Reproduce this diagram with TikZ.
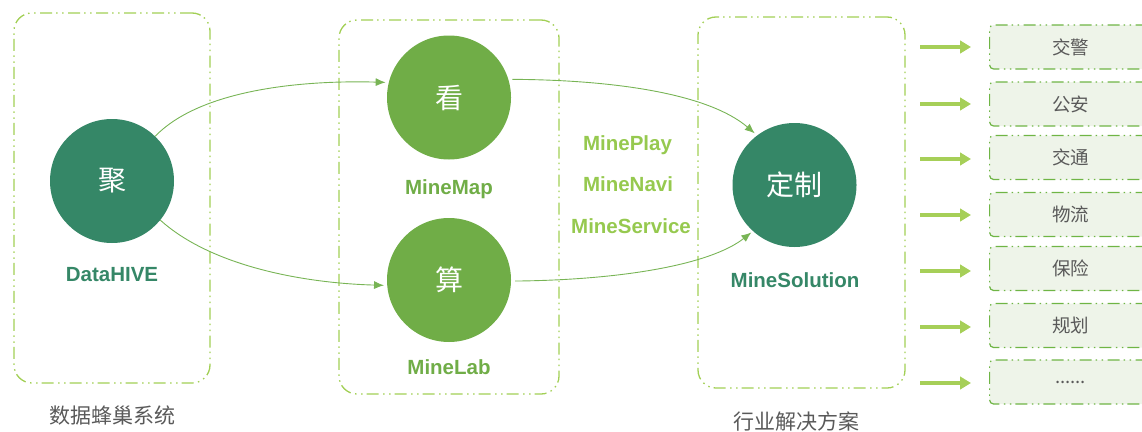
\documentclass[tikz,border=0pt]{standalone}
\usepackage{fontspec}
\setmainfont{Liberation Sans}
\newfontfamily\cjk{Noto Sans CJK SC}
\usetikzlibrary{arrows.meta}
\definecolor{dkgreen}{HTML}{358767}
\definecolor{ltgreen}{HTML}{70AD47}
\definecolor{ygreen}{HTML}{96C94F}
\definecolor{boxline}{HTML}{A2CF55}
\definecolor{listline}{HTML}{6FB545}
\definecolor{listfill}{HTML}{EEF4E9}
\definecolor{arrowc}{HTML}{A6CF58}
\definecolor{conncol}{HTML}{78B455}
\definecolor{graytxt}{HTML}{595959}
\tikzset{
  dashdot/.style={dash pattern=on 12pt off 4.5pt on 1.5pt off 4.5pt on 1.5pt off 4pt},
  grpbox/.style={draw=boxline, line width=1.3pt, dashdot, rounded corners=18pt, inner sep=0pt},
  listbox/.style={draw=listline, fill=listfill, line width=1.2pt, dashdot, rounded corners=4pt,
    minimum width=162pt, minimum height=44pt, anchor=west, inner sep=0pt,
    text=graytxt, font=\cjk\fontsize{18.5}{20}\selectfont},
  darkc/.style={circle, fill=dkgreen, minimum size=124pt, inner sep=0pt, text=white,
    font=\cjk\fontsize{28}{30}\selectfont},
  lightc/.style={circle, fill=ltgreen, minimum size=124pt, inner sep=0pt, text=white,
    font=\cjk\fontsize{28}{30}\selectfont},
  lbl/.style={font=\bfseries\fontsize{20.5}{22}\selectfont, inner sep=0pt},
  captxt/.style={font=\cjk\fontsize{21}{23}\selectfont, text=graytxt, inner sep=0pt},
  conn/.style={draw=conncol, line width=0.9pt, -{Latex[length=10pt,width=8pt]}},
  bigarrow/.style={draw=arrowc, line width=4.5pt, -{Triangle[length=11pt,width=12.5pt]}}
}
\begin{document}
\begin{tikzpicture}[x=1pt,y=-1pt]
\useasboundingbox (0,0) rectangle (1142,431);
% group boxes
\node[grpbox, minimum width=196pt, minimum height=370pt] (b1) at (112,198) {};
\node[grpbox, minimum width=220pt, minimum height=374pt] (b2) at (449,207) {};
\node[grpbox, minimum width=207pt, minimum height=371pt] (b3) at (801.5,202.5) {};
% circles
\node[darkc] (ju) at (112,181) {聚};
\node[lightc] (kan) at (449,97.5) {看};
\node[lightc] (suan) at (449,280) {算};
\node[darkc] (dz) at (794.5,185) {定制};
% labels
\node[lbl, text=dkgreen] (dh) at (112,275) {DataHIVE};
\node[lbl, text=ltgreen] (mm) at (449,189) {MineMap};
\node[lbl, text=ltgreen] (ml) at (449,367) {MineLab};
\node[lbl, text=dkgreen] (ms) at (795,280) {MineSolution};
\node[lbl, text=ygreen] (mp) at (627.5,145) {MinePlay};
\node[lbl, text=ygreen] (mn) at (628,184) {MineNavi};
\node[lbl, text=ygreen] (msv) at (631,226) {MineService};
\node[captxt] (c1) at (112,416) {数据蜂巢系统};
\node[captxt] (c3) at (796,421) {行业解决方案};
% connectors
\draw[conn, shorten >=3pt] (ju.46) .. controls (200,90) and (300,80) .. (kan.166);
\draw[conn, shorten >=3pt] (ju.-39) .. controls (210,265) and (300,283) .. (suan.185);
\draw[conn, shorten <=4pt, shorten >=3pt] (kan.17) .. controls (620,80) and (710,95) .. (dz.127);
\draw[conn, shorten <=4pt, shorten >=2pt] (suan.-1) .. controls (620,280) and (710,265) .. (dz.228);
% list
\begin{scope}
\clip (0,0) rectangle (1142,431);
\node[listbox] (l1) at (989,47) {交警};
\node[listbox] (l2) at (989,104) {公安};
\node[listbox] (l3) at (989,157.5) {交通};
\node[listbox] (l4) at (989,214.5) {物流};
\node[listbox] (l5) at (989,268.5) {保险};
\node[listbox] (l6) at (989,325.5) {规划};
\node[listbox] (l7) at (989,382) {......};
\end{scope}
\foreach \i/\y in {1/47,2/104,3/159,4/215,5/271,6/327,7/383}{
  \coordinate (s\i) at (920,\y);
  \draw[bigarrow] (s\i) -- ([xshift=-18pt]s\i -| l\i.west);
}
\end{tikzpicture}
\end{document}
